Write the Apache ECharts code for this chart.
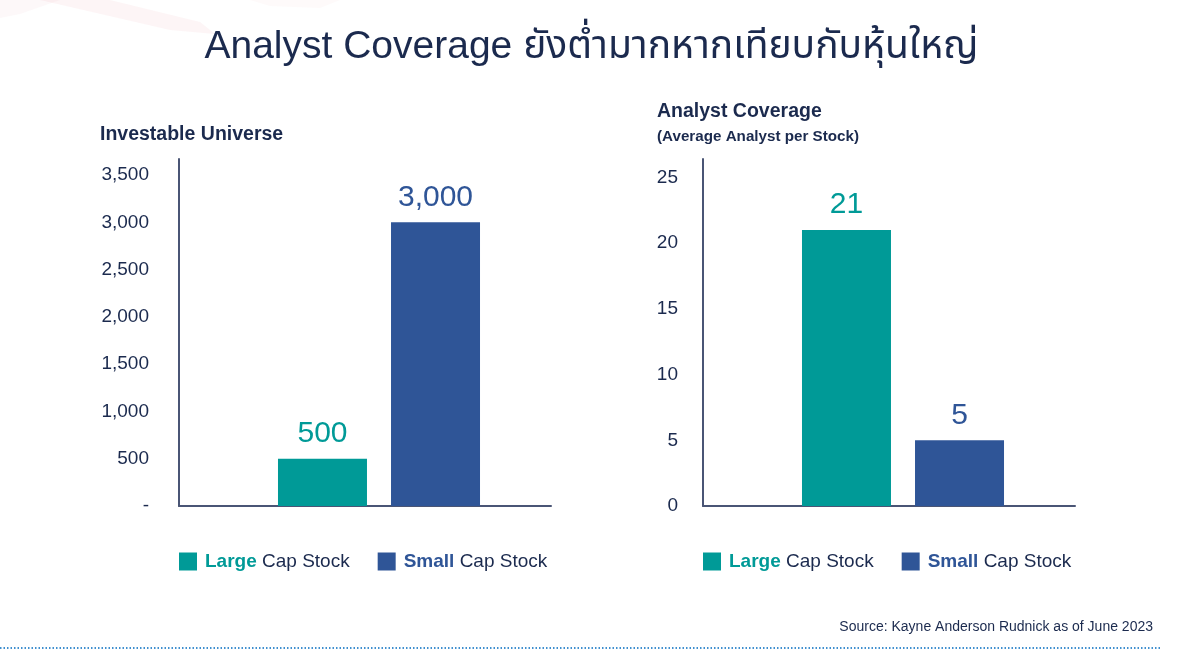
<!DOCTYPE html>
<html>
<head>
<meta charset="utf-8">
<script src="https://cdn.jsdelivr.net/npm/echarts@6/dist/echarts.min.js"></script>
<style>
html,body{margin:0;padding:0;background:#ffffff;}
#chart{width:1183px;height:656px;}
</style>
</head>
<body>
<div id="chart"></div>
<script>
const categories = ['Large Cap Stock', 'Small Cap Stock'];
const legendBold = ['Large', 'Small'];
const universeValues = [500, 3000];
const coverageValues = [21, 5];
const universeAxis = { min: 0, max: 3670, interval: 500 };
const coverageAxis = { min: 0, max: 26.4, interval: 5 };
const titleText = 'Analyst Coverage ยังต่ำมากหากเทียบกับหุ้นใหญ่';
const leftTitle = 'Investable Universe';
const rightTitle = 'Analyst Coverage';
const rightSubtitle = '(Average Analyst per Stock)';
const sourceText = 'Source: Kayne Anderson Rudnick as of June 2023';

const colors = ['#009A97', '#2F5597'];
const navy = '#1B2A4E';
const axisColor = '#4A5575';
const FONT = '"Liberation Sans", "Noto Sans Thai", "Noto Sans", "DejaVu Sans", sans-serif';

const chart = echarts.init(document.getElementById('chart'));

function fmtNum(v){ return v.toLocaleString('en-US'); }

function makeSeries(values, gridIdx){
  return categories.map((name, i) => ({
    name: name,
    type: 'bar',
    xAxisIndex: gridIdx,
    yAxisIndex: gridIdx,
    data: [values[i]],
    barWidth: 89,
    barGap: '27%',
    itemStyle: { color: colors[i] },
    label: {
      show: true,
      position: 'top',
      distance: 10,
      formatter: p => fmtNum(p.value),
      color: colors[i],
      fontSize: 30,
      fontFamily: FONT
    },
    emphasis: { disabled: true }
  }));
}

function yAxisFor(cfg, gridIdx, show, margin, zeroLabel){
  return {
    type: 'value',
    gridIndex: gridIdx,
    min: cfg.min, max: cfg.max, interval: cfg.interval,
    show: show,
    splitLine: { show: false },
    axisTick: { show: false },
    axisLine: { show: true, lineStyle: { color: axisColor, width: 2 } },
    axisLabel: {
      show: true,
      margin: margin,
      color: navy,
      fontSize: 19,
      fontFamily: FONT,
      showMaxLabel: false,
      formatter: v => {
        if (Math.abs(v % cfg.interval) > 1e-9) return '';
        if (v === 0) return zeroLabel;
        return fmtNum(v);
      }
    }
  };
}

function xAxisFor(gridIdx, showLine){
  return {
    type: 'category',
    gridIndex: gridIdx,
    data: ['x'],
    axisTick: { show: false },
    axisLabel: { show: false },
    axisLine: { show: showLine, lineStyle: { color: axisColor, width: 2 } },
    splitLine: { show: false }
  };
}

function legendFor(left){
  return {
    left: left, top: 552,
    padding: 0,
    icon: 'rect',
    itemWidth: 18, itemHeight: 18,
    itemGap: 28,
    selectedMode: false,
    data: categories,
    formatter: name => {
      const i = categories.indexOf(name);
      const key = i === 0 ? 'a' : 'b';
      return '{' + key + '|' + legendBold[i] + '}{c|' + name.slice(legendBold[i].length) + '}';
    },
    textStyle: {
      fontFamily: FONT,
      fontSize: 19,
      color: navy,
      rich: {
        a: { color: colors[0], fontWeight: 'bold', fontSize: 19, fontFamily: FONT, padding: [0, 0, 0, 3] },
        b: { color: colors[1], fontWeight: 'bold', fontSize: 19, fontFamily: FONT, padding: [0, 0, 0, 3] },
        c: { color: navy, fontSize: 19, fontFamily: FONT }
      }
    }
  };
}

const option = {
  backgroundColor: '#ffffff',
  animation: false,
  title: [
    { text: titleText, left: 'center', top: 28, padding: 0,
      textStyle: { color: navy, fontSize: 39, fontWeight: 'normal', fontFamily: FONT } },
    { text: leftTitle, left: 100, top: 125, padding: 0,
      textStyle: { color: navy, fontSize: 19.5, fontWeight: 'bold', fontFamily: FONT } },
    { text: rightTitle, left: 657, top: 102, padding: 0,
      textStyle: { color: navy, fontSize: 19.5, fontWeight: 'bold', fontFamily: FONT } },
    { text: rightSubtitle, left: 657, top: 129, padding: 0,
      textStyle: { color: navy, fontSize: 15.2, fontWeight: 'bold', fontFamily: FONT } },
    { text: sourceText, right: 30, top: 620, padding: 0,
      textStyle: { color: navy, fontSize: 14, fontWeight: 'normal', fontFamily: FONT } }
  ],
  legend: [ legendFor(179), legendFor(703) ],
  grid: [
    { left: 179, top: 159, width: 400, height: 347, containLabel: false },
    { left: 179, top: 159, width: 372, height: 347, containLabel: false },
    { left: 703, top: 159, width: 400, height: 347, containLabel: false },
    { left: 703, top: 159, width: 372, height: 347, containLabel: false }
  ],
  xAxis: [ xAxisFor(0, false), xAxisFor(1, true), xAxisFor(2, false), xAxisFor(3, true) ],
  yAxis: [
    yAxisFor(universeAxis, 0, true, 30, '-'),
    yAxisFor(universeAxis, 1, false, 30, '-'),
    yAxisFor(coverageAxis, 2, true, 25, '0'),
    yAxisFor(coverageAxis, 3, false, 25, '0')
  ],
  series: [ ...makeSeries(universeValues, 0), ...makeSeries(coverageValues, 2) ],
  graphic: [
    { type: 'polygon', silent: true, z: -10,
      shape: { points: [[40, 0], [110, 0], [200, 22], [215, 34], [170, 30]] },
      style: { fill: 'rgba(220,120,130,0.07)' } },
    { type: 'polygon', silent: true, z: -10,
      shape: { points: [[0, 0], [60, 0], [20, 14], [0, 18]] },
      style: { fill: 'rgba(220,120,130,0.05)' } },
    { type: 'polygon', silent: true, z: -10,
      shape: { points: [[250, 0], [340, 0], [320, 8], [270, 6]] },
      style: { fill: 'rgba(220,120,130,0.04)' } },
    { type: 'line', silent: true, z: 10,
      shape: { x1: 0, y1: 648, x2: 1160, y2: 648 },
      style: { stroke: '#3F8FCF', lineWidth: 2, lineDash: [1.5, 2] } }
  ]
};

chart.setOption(option);
</script>
</body>
</html>
